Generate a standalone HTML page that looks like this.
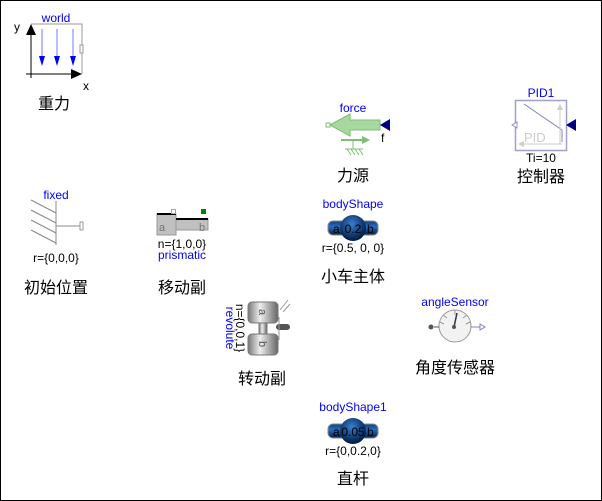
<!DOCTYPE html>
<html><head><meta charset="utf-8"><style>
html,body{margin:0;padding:0;background:#fff}
svg{display:block}
text{font-family:"Liberation Sans","Noto Sans CJK SC",sans-serif}
.b{fill:#0000ff;font-size:12px;text-anchor:middle}
.k{fill:#000;font-size:12px;text-anchor:middle}
.c{fill:#000;font-size:16px;text-anchor:middle}
</style></head><body>
<svg width="602" height="501" viewBox="0 0 602 501" xmlns="http://www.w3.org/2000/svg">
<defs>
<radialGradient id="bg" cx="45%" cy="35%" r="60%"><stop offset="0" stop-color="#3a7fd0"/><stop offset="1" stop-color="#02204a"/></radialGradient>
<linearGradient id="cyl" x1="0" x2="1"><stop offset="0" stop-color="#777"/><stop offset="0.4" stop-color="#eee"/><stop offset="1" stop-color="#666"/></linearGradient>
<linearGradient id="rod" x1="0" y1="0" x2="0" y2="1"><stop offset="0" stop-color="#0b3f7a"/><stop offset="0.4" stop-color="#2a6cc0"/><stop offset="1" stop-color="#02204a"/></linearGradient>
</defs>
<rect x="0.5" y="0.5" width="601" height="500" fill="#fff" stroke="#000"/>
<!-- world -->
<text class="b" x="56" y="22">world</text>
<text x="14" y="31" font-size="12" fill="#000">y</text>
<text x="83" y="90" font-size="12" fill="#000">x</text>
<polyline points="31,24 82,24 82,74" fill="none" stroke="#999" stroke-width="1"/>
<rect x="80" y="45" width="3" height="8" fill="#fff" stroke="#999"/>
<line x1="31" y1="78" x2="31" y2="33" stroke="#000"/>
<polygon points="31,24 26,35 36,35" fill="#000"/>
<line x1="26" y1="74" x2="73" y2="74" stroke="#000"/>
<polygon points="82,74 71,69 71,79" fill="#000"/>
<g stroke="#7777ff"><line x1="42" y1="29" x2="42" y2="58"/><line x1="57" y1="29" x2="57" y2="58"/><line x1="73" y1="29" x2="73" y2="58"/></g>
<g fill="#0000ff"><polygon points="39,56 45,56 42,66"/><polygon points="54,56 60,56 57,66"/><polygon points="70,56 76,56 73,66"/></g>
<text class="c" x="54" y="109">重力</text>
<!-- force -->
<text class="b" x="353" y="112">force</text>
<polygon points="330,125 350,114 350,120 380,120 380,130 350,130 350,136" fill="#a6d8a0" stroke="#7cc070"/>
<rect x="326" y="123" width="4" height="4" fill="#fff" stroke="#7cc070"/>
<polygon points="380,125 390,119 390,131" fill="#000080"/>
<text x="381" y="142" font-size="12" fill="#000">f</text>
<line x1="341" y1="140" x2="364" y2="140" stroke="#7cc070" stroke-width="2"/>
<polygon points="370,140 362,136 362,144" fill="#7cc070"/>
<line x1="353" y1="140" x2="353" y2="149" stroke="#7cc070"/>
<line x1="345" y1="149" x2="363" y2="149" stroke="#7cc070"/>
<g stroke="#7cc070"><line x1="347" y1="149" x2="351" y2="155"/><line x1="351" y1="149" x2="355" y2="155"/><line x1="355" y1="149" x2="359" y2="155"/><line x1="359" y1="149" x2="363" y2="155"/></g>
<text class="c" x="353" y="181">力源</text>
<!-- PID -->
<text class="b" x="541" y="97">PID1</text>
<rect x="515.5" y="100.5" width="51" height="50" fill="#fff" stroke="#a0a0d0" stroke-width="1.5"/>
<line x1="524" y1="104" x2="562" y2="130" stroke="#8080c0"/>
<line x1="562" y1="130" x2="562" y2="142" stroke="#8080c0"/>
<line x1="560" y1="144" x2="560" y2="107" stroke="#ccc"/>
<polygon points="560,104 557,110 563,110" fill="#ccc"/>
<line x1="521" y1="144" x2="562" y2="144" stroke="#ccc"/>
<polygon points="518,144 524,141 524,147" fill="#ccc"/>
<text x="524" y="142" font-size="13" fill="#ccc">PID</text>
<polygon points="512,125 517,122 517,128" fill="#fff" stroke="#8080c0" stroke-width="0.8"/>
<polygon points="566,125 576,119 576,131" fill="#000080"/>
<text class="k" x="541" y="162">Ti=10</text>
<text class="c" x="541" y="182">控制器</text>
<!-- bodyShape -->
<text class="b" x="353" y="208">bodyShape</text>
<rect x="328" y="221" width="50" height="14" rx="5" fill="url(#rod)" stroke="#888"/>
<circle cx="353" cy="228" r="13" fill="url(#bg)"/>
<text x="333" y="233" font-size="12" fill="#000">a</text>
<text x="367" y="233" font-size="12" fill="#000">b</text>
<text class="k" x="353" y="233">0.2</text>
<text class="k" x="353" y="252">r={0.5, 0, 0}</text>
<text class="c" x="353" y="282">小车主体</text>
<!-- fixed -->
<text class="b" x="56" y="199">fixed</text>
<line x1="56" y1="201" x2="56" y2="245" stroke="#888"/>
<g stroke="#888"><line x1="31" y1="200" x2="56" y2="213"/><line x1="31" y1="210" x2="56" y2="223"/><line x1="31" y1="220" x2="56" y2="233"/><line x1="31" y1="230" x2="56" y2="243"/></g>
<line x1="56" y1="226" x2="80" y2="226" stroke="#888"/>
<rect x="80" y="222" width="3" height="8" fill="#fff" stroke="#999"/>
<text class="k" x="56" y="262">r={0,0,0}</text>
<text class="c" x="56" y="293">初始位置</text>
<!-- prismatic -->
<rect x="157" y="214" width="19" height="21" fill="#c0c0c0" stroke="#999"/>
<line x1="157" y1="214" x2="176" y2="214" stroke="#000" stroke-width="2"/>
<rect x="176" y="219" width="32" height="11" fill="#c0c0c0" stroke="#999"/>
<line x1="176" y1="219" x2="208" y2="219" stroke="#000" stroke-width="2"/>
<rect x="171.5" y="209.5" width="4" height="4" fill="#fff" stroke="#7cc070"/>
<rect x="201" y="209" width="5" height="5" fill="#008000"/>
<text x="159" y="231" font-size="11" fill="#777">a</text>
<text x="199" y="231" font-size="11" fill="#777">b</text>
<text class="k" x="182" y="248">n={1,0,0}</text>
<text class="b" x="182" y="259">prismatic</text>
<text class="c" x="182" y="293">移动副</text>
<!-- revolute -->
<rect x="248" y="302" width="30" height="21" rx="4" fill="url(#cyl)" stroke="#777"/>
<rect x="259" y="323" width="8" height="12" fill="url(#cyl)" stroke="#777"/>
<rect x="248" y="334" width="30" height="21" rx="4" fill="url(#cyl)" stroke="#777"/>
<rect x="276" y="324" width="14" height="6" rx="3" fill="#555"/>
<g stroke="#999"><line x1="280" y1="310" x2="288" y2="300"/><line x1="283" y1="312" x2="290" y2="304"/><line x1="279" y1="317" x2="279" y2="340"/></g>
<text font-size="11" fill="#555" transform="translate(259,309) rotate(90)">a</text>
<text font-size="11" fill="#555" transform="translate(259,341) rotate(90)">b</text>
<text font-size="12" fill="#000" text-anchor="middle" transform="translate(236,328) rotate(90)">n={0,0,1}</text>
<text font-size="12" fill="#0000ff" text-anchor="middle" transform="translate(226,328) rotate(90)">revolute</text>
<text class="c" x="262" y="384">转动副</text>
<!-- angleSensor -->
<text class="b" x="455" y="306">angleSensor</text>
<circle cx="455" cy="326" r="16" fill="#f2f2f2" stroke="#999"/>
<g stroke="#999"><line x1="455" y1="310" x2="455" y2="315"/><line x1="443" y1="315" x2="447" y2="318"/><line x1="467" y1="315" x2="463" y2="318"/><line x1="440" y1="322" x2="444" y2="324"/><line x1="470" y1="322" x2="466" y2="324"/></g>
<line x1="454" y1="327" x2="457" y2="313" stroke="#333" stroke-width="1.5"/>
<circle cx="454" cy="327" r="2" fill="#555"/>
<line x1="434" y1="327" x2="439" y2="327" stroke="#555"/>
<circle cx="431" cy="327" r="2.5" fill="#555"/>
<line x1="471" y1="327" x2="480" y2="327" stroke="#8080c0"/>
<polygon points="480,324 485,327 480,330" fill="#fff" stroke="#8080c0"/>
<text class="c" x="455" y="373">角度传感器</text>
<!-- bodyShape1 -->
<text class="b" x="353" y="411">bodyShape1</text>
<rect x="328" y="424" width="50" height="14" rx="5" fill="url(#rod)" stroke="#888"/>
<circle cx="353" cy="431" r="13" fill="url(#bg)"/>
<text x="333" y="436" font-size="12" fill="#000">a</text>
<text x="367" y="436" font-size="12" fill="#000">b</text>
<text class="k" x="353" y="436">0.05</text>
<text class="k" x="353" y="455">r={0,0.2,0}</text>
<text class="c" x="353" y="484">直杆</text>
</svg>
</body></html>
